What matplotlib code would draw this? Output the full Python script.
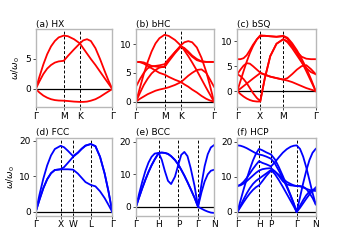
import matplotlib
matplotlib.use("Agg")
import matplotlib.pyplot as plt

plt.rcParams['font.family'] = ['DejaVu Sans']
plt.rcParams['font.size'] = 5.5
plt.rcParams['mathtext.fontset'] = 'dejavusans'

# ---------------- (a) HX ----------------
a_title = "(a) HX"
a_labels = ["Γ", "M", "K", "Γ"]
a_ticks = [0, 0.366, 0.577, 1.0]
a_x = [0, 0.05, 0.1, 0.15, 0.2, 0.25, 0.3, 0.366, 0.42, 0.5, 0.577, 0.62, 0.67, 0.72, 0.78, 0.84, 0.9, 0.95, 1.0]
a_b1 = [0, 2.1, 4.1, 5.8, 7.1, 8.0, 8.6, 8.9, 8.8, 8.3, 7.6, 6.8, 5.9, 5.0, 4.0, 2.9, 1.8, 0.9, 0]
a_b2 = [0, 1.3, 2.5, 3.4, 4.0, 4.4, 4.6, 4.7, 5.5, 6.6, 7.6, 8.1, 8.3, 8.0, 6.8, 5.0, 3.0, 1.4, 0]
a_b3 = [0, -0.6, -1.1, -1.45, -1.7, -1.85, -1.92, -1.95, -2.0, -2.1, -2.15, -2.15, -2.1, -1.95, -1.7, -1.3, -0.8, -0.4, 0]
a_yticks = [0, 5]
a_ylim = (-2.95, 9.95)

# ---------------- (b) bHC ----------------
b_title = "(b) bHC"
b_labels = ["Γ", "M", "K", "Γ"]
b_ticks = [0, 0.366, 0.577, 1.0]
b_x = [0, 0.05, 0.1, 0.15, 0.2, 0.25, 0.3, 0.366, 0.42, 0.5, 0.577, 0.62, 0.67, 0.72, 0.78, 0.84, 0.9, 0.95, 1.0]
b_b1 = [0, 2.4, 4.8, 6.9, 8.7, 10.1, 11.0, 11.6, 11.4, 10.7, 9.7, 8.9, 7.9, 6.8, 5.4, 3.9, 2.4, 1.2, 0]
b_b2 = [0, 1.5, 2.9, 4.0, 4.9, 5.5, 5.9, 6.1, 7.2, 8.6, 9.8, 10.3, 10.5, 10.3, 9.4, 7.6, 5.2, 2.7, 0]
b_b3 = [0, 0.5, 0.9, 1.3, 1.6, 1.9, 2.1, 2.3, 2.5, 2.9, 3.4, 3.9, 4.5, 5.0, 5.5, 5.6, 5.0, 3.8, 2.6]
b_b4 = [2.6, 3.9, 5.0, 5.8, 6.1, 6.2, 6.3, 6.5, 7.4, 8.6, 9.6, 9.3, 8.7, 8.0, 7.4, 7.0, 6.9, 6.9, 6.9]
b_b5 = [6.9, 6.85, 6.6, 6.2, 5.8, 5.4, 5.0, 4.7, 4.3, 3.8, 3.4, 3.0, 2.6, 2.1, 1.6, 1.0, 0.5, 0.2, 0]
b_b6 = [6.9, 6.9, 6.8, 6.5, 6.2, 6.1, 6.0, 6.0, 7.0, 8.4, 9.6, 9.2, 8.5, 7.8, 7.2, 6.95, 6.9, 6.9, 6.9]
b_yticks = [0, 5, 10]
b_ylim = (-0.87, 12.55)

# ---------------- (c) bSQ ----------------
c_title = "(c) bSQ"
c_labels = ["Γ", "X", "M", "Γ"]
c_ticks = [0, 0.293, 0.586, 1.0]
c_x = [0, 0.04, 0.08, 0.12, 0.16, 0.2, 0.25, 0.293, 0.35, 0.42, 0.5, 0.586, 0.64, 0.7, 0.76, 0.82, 0.88, 0.94, 1.0]
c_b1 = [0, 2.0, 4.0, 5.9, 7.6, 9.0, 10.4, 11.2, 11.1, 11.0, 10.9, 11.0, 10.5, 9.3, 7.7, 5.9, 4.0, 2.0, 0]
c_b2 = [0, 0.5, 1.0, 1.5, 2.0, 2.5, 3.1, 3.6, 3.3, 2.9, 2.6, 2.3, 2.6, 3.4, 4.3, 5.0, 5.2, 4.4, 3.4]
c_b3 = [3.4, 4.3, 5.1, 5.6, 5.5, 5.0, 4.3, 3.7, 3.3, 2.9, 2.6, 2.3, 2.1, 1.8, 1.4, 1.0, 0.6, 0.3, 0]
c_b4 = [3.4, 3.0, 2.4, 1.6, 0.6, -0.4, -1.4, -2.0, 2.5, 7.0, 9.5, 10.4, 10.0, 9.0, 7.9, 6.9, 6.5, 6.4, 6.4]
c_b5 = [0, -0.6, -1.1, -1.5, -1.8, -2.0, -2.1, -2.1, 2.5, 7.0, 9.5, 10.4, 9.8, 8.6, 7.2, 5.8, 4.6, 3.8, 3.4]
c_b6 = [6.4, 6.4, 6.6, 7.2, 8.2, 9.3, 10.4, 11.0, 11.1, 11.0, 10.9, 11.1, 10.7, 9.6, 8.2, 6.5, 4.6, 2.4, 0]
c_yticks = [0, 5, 10]
c_ylim = (-3.14, 12.4)

# ---------------- (d) FCC ----------------
d_title = "(d) FCC"
d_labels = ["Γ", "X", "W", "L", "Γ"]
d_ticks = [0, 0.325, 0.488, 0.718, 1.0]
d_x = [0, 0.05, 0.1, 0.15, 0.2, 0.25, 0.325, 0.37, 0.42, 0.488, 0.55, 0.6, 0.65, 0.718, 0.78, 0.84, 0.9, 0.95, 1.0]
d_b1 = [0, 4.9, 9.4, 13.1, 15.9, 17.7, 18.6, 18.2, 17.2, 15.7, 16.7, 17.8, 18.7, 19.1, 18.5, 15.5, 10.8, 5.8, 0]
d_b2 = [0, 3.5, 6.7, 9.2, 10.9, 11.8, 12.0, 12.6, 13.8, 15.5, 16.6, 17.7, 18.6, 19.1, 18.5, 15.5, 10.8, 5.8, 0]
d_b3 = [0, 3.5, 6.7, 9.2, 10.9, 11.8, 12.0, 12.0, 12.0, 11.9, 10.8, 9.6, 8.4, 7.6, 7.2, 5.8, 3.9, 2.0, 0]
d_yticks = [0, 10, 20]
d_ylim = (-1.0, 20.8)

# ---------------- (e) BCC ----------------
e_title = "(e) BCC"
e_labels = ["Γ", "H", "P", "Γ", "N"]
e_ticks = [0, 0.291, 0.543, 0.795, 1.0]
e_x = [0, 0.04, 0.08, 0.12, 0.16, 0.2, 0.24, 0.291, 0.33, 0.37, 0.41, 0.45, 0.5, 0.543,
       0.58, 0.62, 0.66, 0.7, 0.75, 0.795, 0.84, 0.88, 0.92, 0.96, 1.0]
e_b1 = [0, 4.0, 7.7, 11.0, 13.6, 15.4, 16.4, 16.6, 16.7, 16.6, 16.3, 15.6, 14.4, 13.0,
        11.4, 9.6, 7.6, 5.5, 2.8, 0, 7.0, 12.5, 16.2, 18.3, 19.0]
e_b2 = [0, 2.9, 5.7, 8.3, 10.7, 12.8, 14.6, 16.6, 14.5, 11.0, 8.0, 7.0, 9.3, 13.0,
        16.0, 16.9, 15.6, 12.0, 6.5, 0, 4.5, 7.8, 10.0, 11.1, 11.4]
e_b3 = [0, 2.9, 5.7, 8.3, 10.7, 12.8, 14.6, 16.6, 16.7, 16.6, 16.3, 15.6, 14.4, 13.0,
        11.4, 9.6, 7.6, 5.5, 2.8, 0, -0.6, -1.1, -1.5, -1.8, -1.9]
e_yticks = [0, 10, 20]
e_ylim = (-2.7, 21.2)

# ---------------- (f) HCP ----------------
f_title = "(f) HCP"
f_labels = ["Γ", "H", "P", "Γ", "N"]
f_ticks = [0, 0.277, 0.43, 0.757, 1.0]
f_x = [0, 0.04, 0.08, 0.12, 0.16, 0.2, 0.24, 0.277, 0.32, 0.37, 0.43, 0.48, 0.53, 0.58,
       0.63, 0.68, 0.72, 0.757, 0.8, 0.84, 0.88, 0.92, 0.96, 1.0]
f_b1 = [0, 3.2, 6.4, 9.4, 12.2, 14.7, 16.7, 18.0, 17.6, 17.0, 16.4, 15.0, 12.8, 10.3,
        7.6, 4.8, 2.5, 0, 4.2, 8.2, 11.8, 14.8, 16.9, 18.0]
f_b2 = [19.0, 18.9, 18.6, 18.2, 17.7, 17.2, 16.7, 16.4, 16.2, 15.8, 15.2, 13.8, 11.8, 9.6,
        7.2, 4.6, 2.3, 0, 1.8, 3.4, 4.8, 5.8, 6.3, 6.5]
f_b3 = [7.4, 7.8, 8.6, 9.7, 11.0, 12.3, 13.5, 14.5, 14.0, 13.6, 13.0, 14.2, 15.6, 16.9,
        17.9, 18.6, 18.9, 19.0, 18.0, 15.8, 12.7, 9.1, 5.4, 2.2]
f_b4 = [7.4, 7.6, 8.1, 8.8, 9.6, 10.4, 11.2, 11.8, 12.2, 12.4, 12.5, 11.6, 10.3, 8.8,
        7.9, 7.6, 7.5, 7.4, 7.3, 7.0, 6.6, 6.3, 6.1, 6.0]
f_b5 = [0, 1.8, 3.6, 5.3, 6.8, 8.0, 8.9, 9.5, 10.2, 11.0, 12.0, 10.8, 9.1, 7.2,
        5.2, 3.2, 1.6, 0, 1.2, 2.5, 3.8, 5.0, 6.0, 7.0]
f_b6 = [0, 1.4, 2.8, 4.1, 5.3, 6.3, 7.1, 7.6, 8.8, 10.3, 11.8, 11.5, 10.6, 9.5,
        8.6, 8.0, 7.6, 7.4, 7.4, 7.2, 6.6, 5.4, 4.0, 2.2]
f_yticks = [0, 10, 20]
f_ylim = (-1.0, 21.1)

W, H = 350, 245
fig = plt.figure(figsize=(3.5, 2.45), dpi=100)

def make_ax(x0, x1, y0, y1):
    return fig.add_axes([x0 / W, 1 - y1 / H, (x1 - x0) / W, (y1 - y0) / H])

cols = [(35.7, 112.3), (136.0, 214.0), (237.3, 315.7)]
rows = [(29.3, 106.7), (138.0, 215.5)]

panels = [
    (a_title, a_labels, a_ticks, a_x, [a_b1, a_b2, a_b3], a_yticks, a_ylim, 'red', 0, 0),
    (b_title, b_labels, b_ticks, b_x, [b_b1, b_b2, b_b3, b_b4, b_b5, b_b6], b_yticks, b_ylim, 'red', 0, 1),
    (c_title, c_labels, c_ticks, c_x, [c_b1, c_b2, c_b3, c_b4, c_b5, c_b6], c_yticks, c_ylim, 'red', 0, 2),
    (d_title, d_labels, d_ticks, d_x, [d_b1, d_b2, d_b3], d_yticks, d_ylim, 'blue', 1, 0),
    (e_title, e_labels, e_ticks, e_x, [e_b1, e_b2, e_b3], e_yticks, e_ylim, 'blue', 1, 1),
    (f_title, f_labels, f_ticks, f_x, [f_b1, f_b2, f_b3, f_b4, f_b5, f_b6], f_yticks, f_ylim, 'blue', 1, 2),
]

for title, labels, ticks, xs, bands, yticks, ylim, color, r, c in panels:
    ax = make_ax(cols[c][0], cols[c][1], rows[r][0], rows[r][1])
    ax.axhline(0, color='black', lw=0.9, zorder=1)
    for t in ticks[1:-1]:
        ax.axvline(t, color='black', lw=0.7, ls='--', dashes=(3, 2), zorder=1)
    for band in bands:
        ax.plot(xs, band, color=color, lw=1.3, zorder=2)
    ax.set_xlim(0, 1)
    ax.set_ylim(*ylim)
    ax.set_xticks(ticks)
    ax.set_xticklabels(labels)
    ax.set_yticks(yticks)
    ax.tick_params(length=2, width=0.5, pad=1.5, labelsize=6.5)
    for s in ax.spines.values():
        s.set_color('0.72')
        s.set_linewidth(1.0)
    ax.set_title(title, loc='left', fontsize=6.5, pad=2)
    if c == 0:
        ax.set_ylabel(r'$\omega/\omega_0$', fontsize=6.5, labelpad=2)

fig.savefig('out.png', dpi=100)
